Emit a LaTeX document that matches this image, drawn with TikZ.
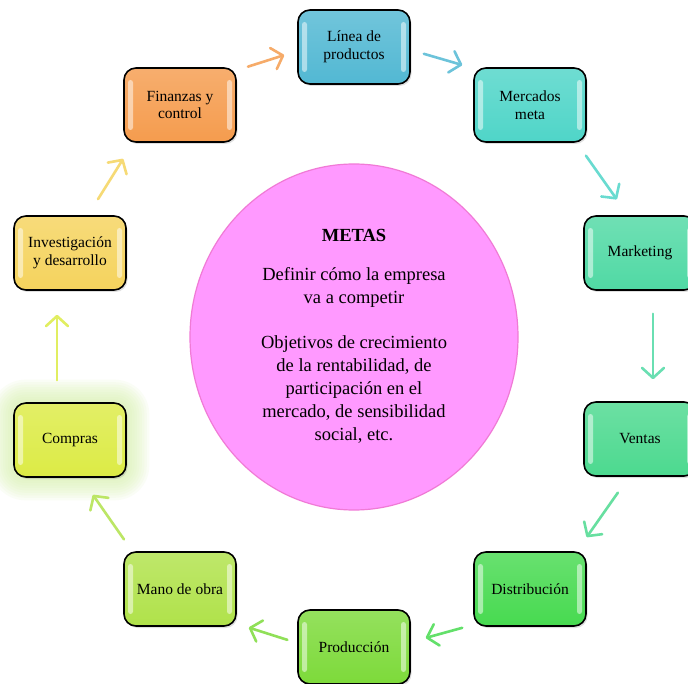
\documentclass[tikz,border=0pt]{standalone}
\usepackage{fontspec}
\setmainfont{Liberation Serif}
\usetikzlibrary{positioning,arrows.meta,shapes.geometric,shadows,backgrounds}

\definecolor{cLin}{HTML}{52B8D3}
\definecolor{cMer}{HTML}{4FD5C8}
\definecolor{cMar}{HTML}{50D9A4}
\definecolor{cVen}{HTML}{4CD98F}
\definecolor{cDis}{HTML}{47DA50}
\definecolor{cPro}{HTML}{7DDA3A}
\definecolor{cMan}{HTML}{B0E24A}
\definecolor{cCom}{HTML}{DCEB45}
\definecolor{cInv}{HTML}{F5D35D}
\definecolor{cFin}{HTML}{F59C4E}
\definecolor{cGoal}{HTML}{FF99FF}
\definecolor{cGoalD}{HTML}{F07AD6}
\definecolor{cGlow}{HTML}{D6F2A8}

\begin{document}
\begin{tikzpicture}[
    x=1pt, y=-1pt,
    stage/.style={draw=black, line width=1.6pt, rounded corners=12pt,
                  minimum width=112pt, minimum height=74pt, align=center,
                  inner sep=2pt, font=\fontsize{15.5}{17.5}\selectfont,
                  top color=#1!82!white, bottom color=#1,
                  drop shadow={opacity=0.25, shadow xshift=1.5pt, shadow yshift=-2pt},
                  path picture={
                    \fill[white, opacity=0.5, rounded corners=2.5pt]
                      ([xshift=4pt,yshift=-12pt]path picture bounding box.north west) rectangle
                      ([xshift=9pt,yshift=12pt]path picture bounding box.south west);
                    \fill[white, opacity=0.5, rounded corners=2.5pt]
                      ([xshift=-9pt,yshift=-12pt]path picture bounding box.north east) rectangle
                      ([xshift=-4pt,yshift=12pt]path picture bounding box.south east);
                  }},
    goal/.style={ellipse, draw=cGoalD, line width=1.2pt, fill=cGoal,
                 minimum width=328pt, minimum height=346pt},
    goaltxt/.style={align=center, font=\fontsize{18.5}{23}\selectfont},
    flow/.style={line width=2.6pt, draw=#1!85!white, line cap=round,
                 -{Straight Barb[length=10pt,width=22pt,round]}},
  ]

  \clip (0,0) rectangle (688,684);

  % ============ Meta central ============
  \node[goal] (goal) at (354,337) {};
  \node[goaltxt] (goaltext) at (354,336) {\textbf{METAS}\\[16pt]
        Definir cómo la empresa\\va a competir\\[22pt]
        Objetivos de crecimiento\\de la rentabilidad, de\\participación en el\\
        mercado, de sensibilidad\\social, etc.};

  % ============ Etapas en anillo ============
  \node[stage=cLin] (lin) at (354,47)  {Línea de\\productos};
  \node[stage=cMer] (mer) at (530,105) {Mercados\\meta};
  \node[stage=cMar] (mar) at (640,253) {Marketing};
  \node[stage=cVen] (ven) at (640,439) {Ventas};
  \node[stage=cDis] (dis) at (530,589) {Distribución};
  \node[stage=cPro] (pro) at (354,647) {Producción};
  \node[stage=cMan] (man) at (180,589) {Mano de obra};
  \node[stage=cCom] (com) at (70,440)  {Compras};
  \node[stage=cInv] (inv) at (70,253)  {Investigación\\y desarrollo};
  \node[stage=cFin] (fin) at (180,105) {Finanzas y\\control};

  % ============ Flechas del ciclo ============
  \draw[flow=cFin, shorten <=11.7pt, shorten >=13.6pt] ([yshift=-3pt]fin.north east) -- ([yshift=-4pt]lin.west);
  \draw[flow=cLin, shorten <=13.6pt, shorten >=11.4pt] ([yshift=-3pt]lin.east) -- ([yshift=-1pt]mer.north west);
  \draw[flow=cMer, shorten <=15.8pt, shorten >=19.4pt] ([xshift=-10pt]mer.south east) -- ([xshift=-12pt]mar.north);
  \draw[flow=cMar, shorten <=23pt, shorten >=22pt] ([xshift=13pt]mar.south) -- ([xshift=13pt]ven.north);
  \draw[flow=cVen, shorten <=19.4pt, shorten >=17.2pt] ([xshift=-11pt]ven.south) -- ([xshift=-10pt]dis.north east);
  \draw[flow=cDis, shorten <=11.4pt, shorten >=15.5pt] ([yshift=2pt]dis.south west) -- ([yshift=5pt]pro.east);
  \draw[flow=cPro, shorten <=10.4pt, shorten >=12.6pt] ([yshift=4pt]pro.west) -- ([yshift=3pt]man.south east);
  \draw[flow=cMan, shorten <=14.4pt, shorten >=20.8pt] ([xshift=9pt]man.north west) -- ([xshift=11pt]com.south);
  \draw[flow=cCom, shorten <=22pt, shorten >=24pt] ([xshift=-13pt]com.north) -- ([xshift=-13pt]inv.south);
  \draw[flow=cInv, shorten <=18.9pt, shorten >=18.9pt] ([xshift=18pt]inv.north) -- ([xshift=10pt]fin.south west);

  % ============ Fondo y halo de Compras ============
  \begin{scope}[on background layer]
    \fill[white] (0,0) rectangle (688,684);
    \foreach \g [evaluate=\g as \r using 12+2.5*\g] in {1,...,9}
      \fill[cGlow, opacity=0.1, rounded corners=\r pt]
        ([xshift=-2.5pt*\g, yshift=2.5pt*\g]com.north west) rectangle
        ([xshift=2.5pt*\g, yshift=-2.5pt*\g]com.south east);
  \end{scope}

\end{tikzpicture}
\end{document}
